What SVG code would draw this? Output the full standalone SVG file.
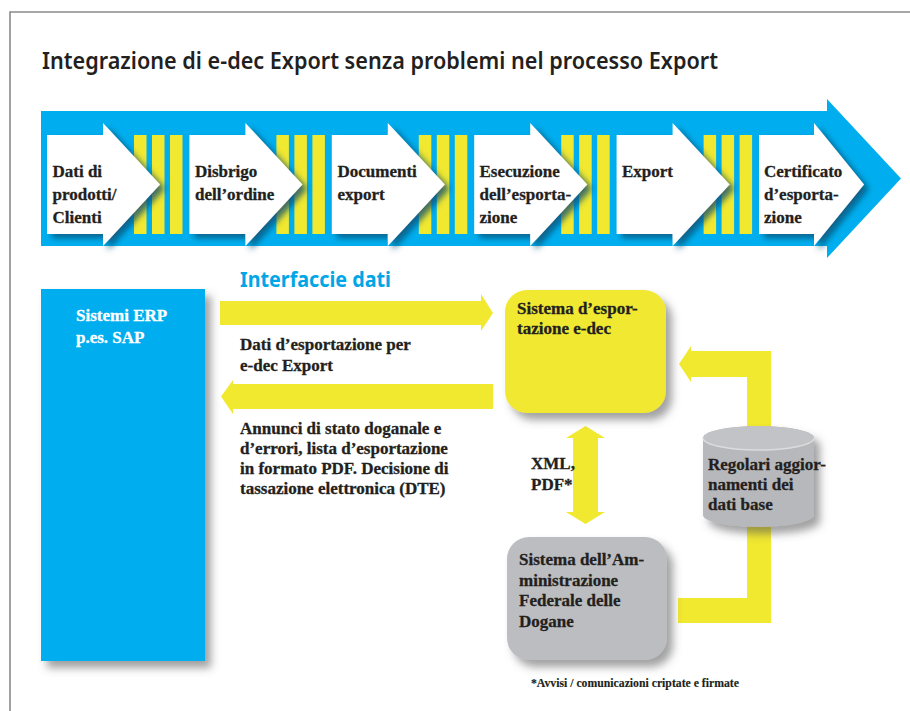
<svg xmlns="http://www.w3.org/2000/svg" width="910" height="711" viewBox="0 0 910 711">
<defs>
<style>
.t{font-family:"Liberation Serif","Times New Roman",serif;font-weight:bold;font-size:17px;fill:#231f20;stroke:#231f20;stroke-width:0.3px}
.w{fill:#ffffff;stroke:#ffffff}
.y{fill:#f1e830}
.st{fill:#f1e830}
.chev{fill:#ffffff;filter:url(#cs)}
</style>
<filter id="cs" x="-20%" y="-20%" width="150%" height="150%">
<feGaussianBlur in="SourceAlpha" stdDeviation="3"/>
<feOffset dx="5" dy="4" result="b"/>
<feFlood flood-color="#0b4f72" flood-opacity="0.8"/>
<feComposite in2="b" operator="in"/>
<feMerge><feMergeNode/><feMergeNode in="SourceGraphic"/></feMerge>
</filter>
<filter id="bs" x="-20%" y="-20%" width="150%" height="150%">
<feGaussianBlur in="SourceAlpha" stdDeviation="4"/>
<feOffset dx="6" dy="7" result="b"/>
<feFlood flood-color="#555" flood-opacity="0.55"/>
<feComposite in2="b" operator="in"/>
<feMerge><feMergeNode/><feMergeNode in="SourceGraphic"/></feMerge>
</filter>
</defs>
<rect width="910" height="711" fill="#ffffff"/>
<path d="M10 711 V12 H910" fill="none" stroke="#8a8a8a" stroke-width="1.6"/>
<text x="42" y="69" font-family="'Noto Sans','Liberation Sans',sans-serif" font-weight="600" font-size="24" fill="#231f20" textLength="676" lengthAdjust="spacingAndGlyphs">Integrazione di e-dec Export senza problemi nel processo Export</text>

<g id="process-band">
<polygon points="41,111 827,111 827,99 901,178.5 827,258 827,246 41,246" fill="#00aeef"/>
<g id="stripes">
<rect class="st" x="134" y="135" width="12.5" height="99"/><rect class="st" x="152" y="135" width="12.5" height="99"/><rect class="st" x="170" y="135" width="12.5" height="99"/>
<rect class="st" x="276.4" y="135" width="12.5" height="99"/><rect class="st" x="294.4" y="135" width="12.5" height="99"/><rect class="st" x="312.4" y="135" width="12.5" height="99"/>
<rect class="st" x="418.8" y="135" width="12.5" height="99"/><rect class="st" x="436.8" y="135" width="12.5" height="99"/><rect class="st" x="454.8" y="135" width="12.5" height="99"/>
<rect class="st" x="561.2" y="135" width="12.5" height="99"/><rect class="st" x="579.2" y="135" width="12.5" height="99"/><rect class="st" x="597.2" y="135" width="12.5" height="99"/>
<rect class="st" x="703.6" y="135" width="12.5" height="99"/><rect class="st" x="721.6" y="135" width="12.5" height="99"/><rect class="st" x="739.6" y="135" width="12.5" height="99"/>
</g>
</g>

<g id="step1">
<polygon class="chev" points="47,135 103,135 103,123 160,184.5 103,246 103,234 47,234"/>
<text class="t" x="52.5" y="177">Dati di</text>
<text class="t" x="52.5" y="200">prodotti/</text>
<text class="t" x="52.5" y="223">Clienti</text>
</g>
<g id="step2">
<polygon class="chev" points="189.4,135 245.4,135 245.4,123 302.4,184.5 245.4,246 245.4,234 189.4,234"/>
<text class="t" x="195" y="177">Disbrigo</text>
<text class="t" x="195" y="200">dell’ordine</text>
</g>
<g id="step3">
<polygon class="chev" points="331.8,135 387.8,135 387.8,123 444.8,184.5 387.8,246 387.8,234 331.8,234"/>
<text class="t" x="337.5" y="177">Documenti</text>
<text class="t" x="337.5" y="200">export</text>
</g>
<g id="step4">
<polygon class="chev" points="474.2,135 530.2,135 530.2,123 587.2,184.5 530.2,246 530.2,234 474.2,234"/>
<text class="t" x="479.5" y="177">Esecuzione</text>
<text class="t" x="479.5" y="200">dell’esporta-</text>
<text class="t" x="479.5" y="223">zione</text>
</g>
<g id="step5">
<polygon class="chev" points="616.6,135 672.6,135 672.6,123 729.6,184.5 672.6,246 672.6,234 616.6,234"/>
<text class="t" x="622" y="177">Export</text>
</g>
<g id="step6">
<polygon class="chev" points="759,135 814,135 814,123 864,184.5 814,246 814,234 759,234"/>
<text class="t" x="764" y="177">Certificato</text>
<text class="t" x="764" y="200">d’esporta-</text>
<text class="t" x="764" y="223">zione</text>
</g>

<text x="240" y="287" font-family="'Noto Sans','Liberation Sans',sans-serif" font-weight="bold" font-size="21" fill="#00a6e6" textLength="151" lengthAdjust="spacingAndGlyphs">Interfaccie dati</text>

<g id="connectors">
<polygon class="y" points="220,301 481,301 481,294 493,313 481,331 481,325 220,325"/>
<polygon class="y" points="493,384 233,384 233,380 221,396.5 233,414 233,409 493,409"/>
<polygon class="y" points="573,438 566,438 585.5,426 605,438 598,438 598,512 605,512 585.5,524 566,512 573,512"/>
<polygon class="y" points="678,598 747,598 747,500 771,500 771,623 678,623"/>
<polygon class="y" points="771,460 747,460 747,377 691,377 691,382 679,364 691,346 691,351 771,351"/>
</g>
<text class="t" x="240" y="350">Dati d’esportazione per</text>
<text class="t" x="240" y="371">e-dec Export</text>
<text class="t" x="240" y="434">Annunci di stato doganale e</text>
<text class="t" x="240" y="454">d’errori, lista d’esportazione</text>
<text class="t" x="240" y="474">in formato PDF. Decisione di</text>
<text class="t" x="240" y="494">tassazione elettronica (DTE)</text>
<text class="t" x="531" y="469">XML,</text>
<text class="t" x="531" y="490">PDF*</text>

<g id="erp">
<rect x="41" y="289" width="164" height="372" fill="#00aeef" filter="url(#bs)"/>
<text class="t w" x="76" y="321">Sistemi ERP</text>
<text class="t w" x="76" y="343">p.es. SAP</text>
</g>

<g id="edec">
<rect x="505" y="290" width="161" height="123" rx="22" fill="#f1e830" filter="url(#bs)"/>
<text class="t" x="517" y="314">Sistema d’espor-</text>
<text class="t" x="517" y="334">tazione e-dec</text>
</g>

<g id="database">
<g filter="url(#bs)">
<path d="M703 438 A55.5 12 0 0 1 814 438 V515 A55.5 12 0 0 1 703 515 Z" fill="#b7b8bb"/>
</g>
<ellipse cx="758.5" cy="438" rx="55.5" ry="12" fill="#c2c3c6"/>
<path d="M703 438 A55.5 12 0 0 0 814 438" fill="none" stroke="#dcdcde" stroke-width="1.5"/>
<text class="t" x="708" y="470">Regolari aggior-</text>
<text class="t" x="708" y="490">namenti dei</text>
<text class="t" x="708" y="510">dati base</text>
</g>

<g id="customs">
<rect x="507" y="537" width="160" height="123" rx="22" fill="#bcbdc0" filter="url(#bs)"/>
<text class="t" x="519" y="565">Sistema dell’Am-</text>
<text class="t" x="519" y="586">ministrazione</text>
<text class="t" x="519" y="606">Federale delle</text>
<text class="t" x="519" y="627">Dogane</text>
</g>

<text class="t" x="531" y="687" textLength="208" lengthAdjust="spacingAndGlyphs" style="font-size:11.5px;stroke-width:0.15px">*Avvisi / comunicazioni criptate e firmate</text>
</svg>
